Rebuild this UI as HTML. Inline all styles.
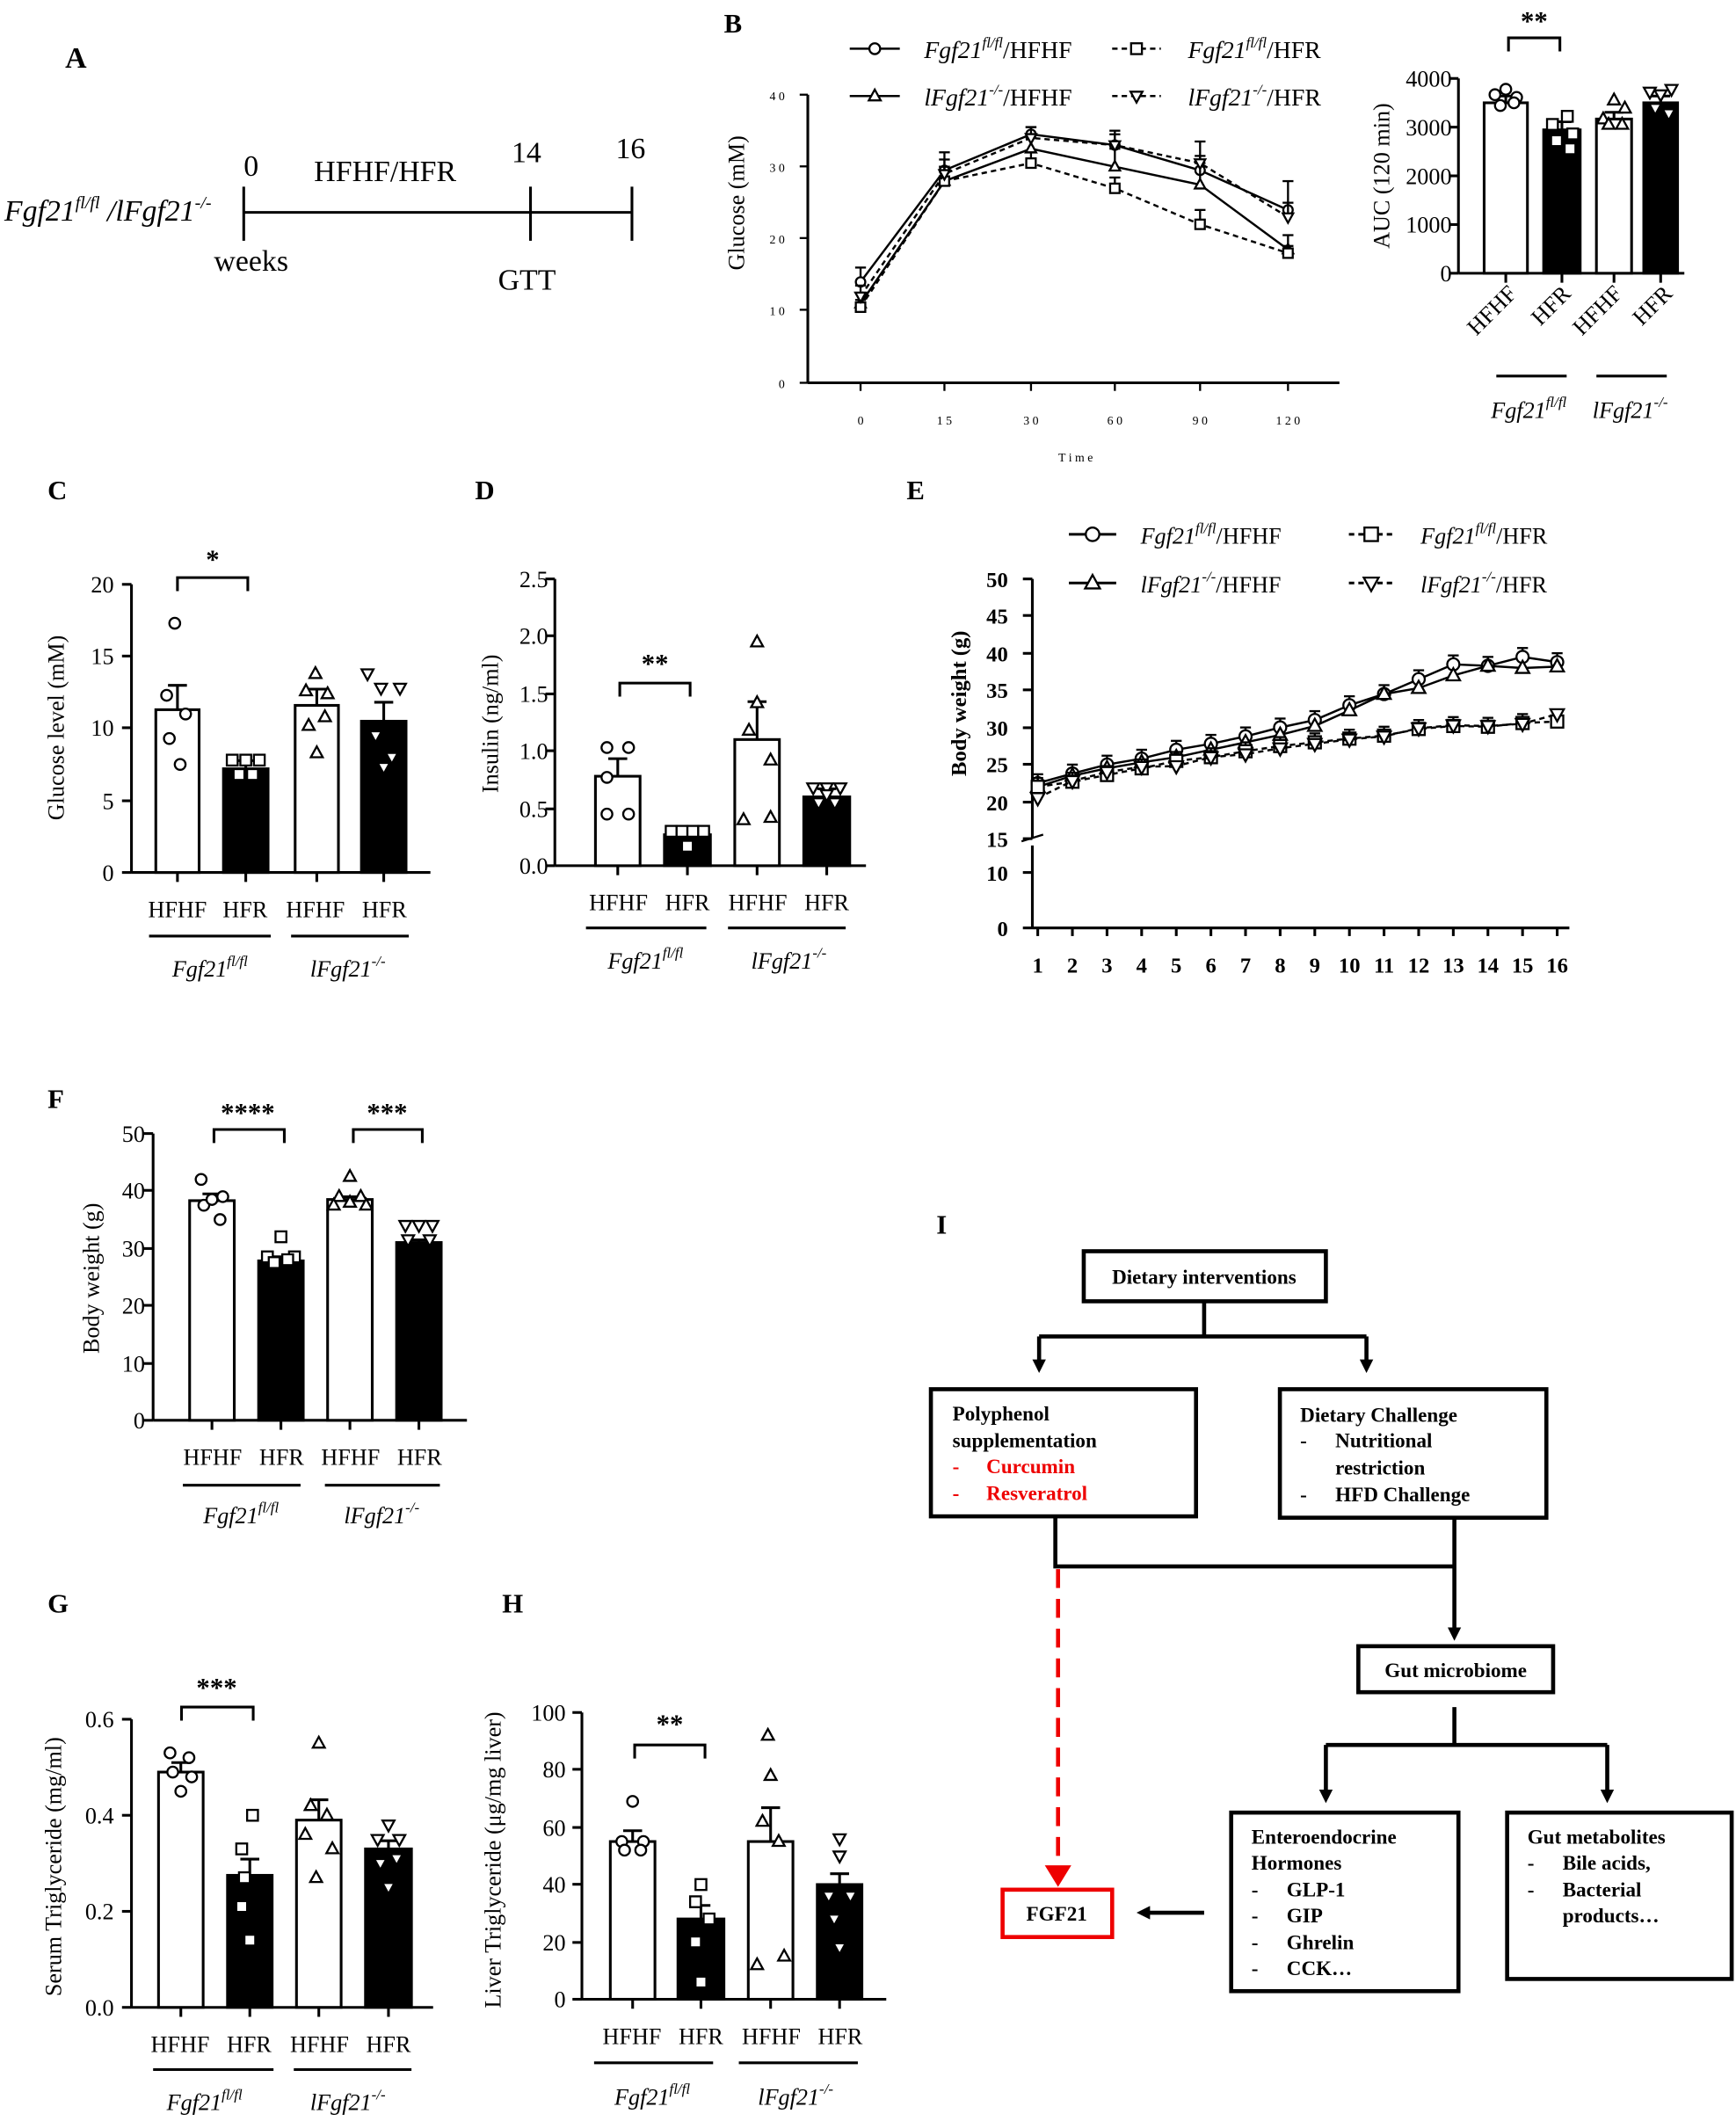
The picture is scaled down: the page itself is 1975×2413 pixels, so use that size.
<!DOCTYPE html>
<html><head><meta charset="utf-8"><style>
html,body{margin:0;padding:0;background:#fff}
svg{display:block}
text{font-family:"Liberation Serif",serif;fill:#000}
.b{font-weight:bold}
.i{font-style:italic}
</style></head><body>
<svg id="s" width="1975" height="2413" viewBox="0 0 1283 1568" xmlns="http://www.w3.org/2000/svg">
<defs>
<marker id="ar" markerWidth="10" markerHeight="10" refX="5" refY="5" orient="auto" markerUnits="userSpaceOnUse" viewBox="0 0 10 10"><path d="M0,0 L10,5 L0,10 z"/></marker>
</defs>
<g id="g" stroke="#000" fill="none" stroke-width="2"></g>
<!-- Panel A -->
<text x="48" y="50" font-size="22" class="b">A</text>
<text x="3" y="163" font-size="22" class="i">Fgf21<tspan font-size="13" dy="-9">fl/fl</tspan><tspan dy="9"> /lFgf21</tspan><tspan font-size="13" dy="-9">-/-</tspan></text>
<text x="180" y="130" font-size="22">0</text>
<text x="232" y="134" font-size="22">HFHF/HFR</text>
<text x="378" y="120" font-size="22">14</text>
<text x="455" y="117" font-size="22">16</text>
<text x="158" y="200" font-size="22">weeks</text>
<text x="368" y="214" font-size="22">GTT</text>
<!-- Panel B -->
<text x="535" y="24" font-size="20" class="b">B</text>
<text x="683" y="43" font-size="18" class="i">Fgf21<tspan font-size="11" dy="-8">fl/fl</tspan><tspan dy="8" font-style="normal">/HFHF</tspan></text>
<text x="878" y="43" font-size="18" class="i">Fgf21<tspan font-size="11" dy="-8">fl/fl</tspan><tspan dy="8" font-style="normal">/HFR</tspan></text>
<text x="683" y="78" font-size="18" class="i">lFgf21<tspan font-size="11" dy="-8">-/-</tspan><tspan dy="8" font-style="normal">/HFHF</tspan></text>
<text x="878" y="78" font-size="18" class="i">lFgf21<tspan font-size="11" dy="-8">-/-</tspan><tspan dy="8" font-style="normal">/HFR</tspan></text>
<g font-size="9" text-anchor="end"><text x="580" y="74">4 0</text><text x="580" y="127">3 0</text><text x="580" y="180">2 0</text><text x="580" y="233">1 0</text><text x="580" y="287">0</text></g>
<g font-size="9" text-anchor="middle"><text x="636" y="314">0</text><text x="698" y="314">1 5</text><text x="762" y="314">3 0</text><text x="824" y="314">6 0</text><text x="887" y="314">9 0</text><text x="952" y="314">1 2 0</text><text x="795" y="341">T i m e</text></g>
<text transform="translate(550,150) rotate(-90)" font-size="17" text-anchor="middle">Glucose (mM)</text>
<g font-size="17" text-anchor="end"><text x="1073" y="64">4000</text><text x="1073" y="100">3000</text><text x="1073" y="136">2000</text><text x="1073" y="172">1000</text><text x="1073" y="208">0</text></g>
<text transform="translate(1027,130) rotate(-90)" font-size="17" text-anchor="middle">AUC (120 min)</text>
<g font-size="17" text-anchor="end"><text transform="translate(1122,218) rotate(-45)">HFHF</text><text transform="translate(1162,218) rotate(-45)">HFR</text><text transform="translate(1200,218) rotate(-45)">HFHF</text><text transform="translate(1237,218) rotate(-45)">HFR</text></g>
<text x="1134" y="22" font-size="20" text-anchor="middle" class="b">**</text>
<text x="1130" y="309" font-size="17" class="i" text-anchor="middle">Fgf21<tspan font-size="11" dy="-8">fl/fl</tspan></text>
<text x="1205" y="309" font-size="17" class="i" text-anchor="middle">lFgf21<tspan font-size="11" dy="-8">-/-</tspan></text>
<!-- Panel C -->
<text x="35" y="369" font-size="20" class="b">C</text>
<g font-size="17" text-anchor="end"><text x="84" y="438">20</text><text x="84" y="491">15</text><text x="84" y="544">10</text><text x="84" y="598">5</text><text x="84" y="651">0</text></g>
<text transform="translate(47,538) rotate(-90)" font-size="17" text-anchor="middle">Glucose  level (mM)</text>
<g font-size="17" text-anchor="middle"><text x="131" y="678">HFHF</text><text x="181" y="678">HFR</text><text x="233" y="678">HFHF</text><text x="284" y="678">HFR</text></g>
<text x="155" y="722" font-size="17" class="i" text-anchor="middle">Fgf21<tspan font-size="11" dy="-8">fl/fl</tspan></text>
<text x="257" y="722" font-size="17" class="i" text-anchor="middle">lFgf21<tspan font-size="11" dy="-8">-/-</tspan></text>
<text x="157" y="420" font-size="20" text-anchor="middle" class="b">*</text>
<!-- Panel D -->
<text x="351" y="369" font-size="20" class="b">D</text>
<g font-size="17" text-anchor="end"><text x="405" y="434">2.5</text><text x="405" y="476">2.0</text><text x="405" y="519">1.5</text><text x="405" y="561">1.0</text><text x="405" y="604">0.5</text><text x="405" y="646">0.0</text></g>
<text transform="translate(368,535) rotate(-90)" font-size="17" text-anchor="middle">Insulin (ng/ml)</text>
<g font-size="17" text-anchor="middle"><text x="457" y="673">HFHF</text><text x="508" y="673">HFR</text><text x="560" y="673">HFHF</text><text x="611" y="673">HFR</text></g>
<text x="477" y="716" font-size="17" class="i" text-anchor="middle">Fgf21<tspan font-size="11" dy="-8">fl/fl</tspan></text>
<text x="583" y="716" font-size="17" class="i" text-anchor="middle">lFgf21<tspan font-size="11" dy="-8">-/-</tspan></text>
<text x="484" y="497" font-size="20" text-anchor="middle" class="b">**</text>
<!-- Panel E -->
<text x="670" y="369" font-size="20" class="b">E</text>
<text x="843" y="402" font-size="17" class="i">Fgf21<tspan font-size="11" dy="-8">fl/fl</tspan><tspan dy="8" font-style="normal">/HFHF</tspan></text>
<text x="1050" y="402" font-size="17" class="i">Fgf21<tspan font-size="11" dy="-8">fl/fl</tspan><tspan dy="8" font-style="normal">/HFR</tspan></text>
<text x="843" y="438" font-size="17" class="i">lFgf21<tspan font-size="11" dy="-8">-/-</tspan><tspan dy="8" font-style="normal">/HFHF</tspan></text>
<text x="1050" y="438" font-size="17" class="i">lFgf21<tspan font-size="11" dy="-8">-/-</tspan><tspan dy="8" font-style="normal">/HFR</tspan></text>
<g font-size="16" text-anchor="end" class="b"><text x="745" y="434">50</text><text x="745" y="461">45</text><text x="745" y="489">40</text><text x="745" y="516">35</text><text x="745" y="544">30</text><text x="745" y="571">25</text><text x="745" y="599">20</text><text x="745" y="626">15</text><text x="745" y="651">10</text><text x="745" y="692">0</text></g>
<text transform="translate(714,520) rotate(-90)" font-size="16" text-anchor="middle" class="b">Body weight (g)</text>
<g id="ex" font-size="16" text-anchor="middle" class="b"></g>
<!-- Panel F -->
<text x="35" y="819" font-size="20" class="b">F</text>
<g font-size="17" text-anchor="end"><text x="107" y="844">50</text><text x="107" y="886">40</text><text x="107" y="929">30</text><text x="107" y="971">20</text><text x="107" y="1014">10</text><text x="107" y="1056">0</text></g>
<text transform="translate(73,945) rotate(-90)" font-size="17" text-anchor="middle">Body weight (g)</text>
<g font-size="17" text-anchor="middle"><text x="157" y="1083">HFHF</text><text x="208" y="1083">HFR</text><text x="259" y="1083">HFHF</text><text x="310" y="1083">HFR</text></g>
<text x="178" y="1126" font-size="17" class="i" text-anchor="middle">Fgf21<tspan font-size="11" dy="-8">fl/fl</tspan></text>
<text x="282" y="1126" font-size="17" class="i" text-anchor="middle">lFgf21<tspan font-size="11" dy="-8">-/-</tspan></text>
<text x="183" y="829" font-size="20" text-anchor="middle" class="b">****</text>
<text x="286" y="829" font-size="20" text-anchor="middle" class="b">***</text>
<!-- Panel G -->
<text x="35" y="1192" font-size="20" class="b">G</text>
<g font-size="17" text-anchor="end"><text x="84" y="1277">0.6</text><text x="84" y="1348">0.4</text><text x="84" y="1419">0.2</text><text x="84" y="1490">0.0</text></g>
<text transform="translate(45,1380) rotate(-90)" font-size="17" text-anchor="middle">Serum Triglyceride (mg/ml)</text>
<g font-size="17" text-anchor="middle"><text x="133" y="1517">HFHF</text><text x="184" y="1517">HFR</text><text x="236" y="1517">HFHF</text><text x="287" y="1517">HFR</text></g>
<text x="151" y="1560" font-size="17" class="i" text-anchor="middle">Fgf21<tspan font-size="11" dy="-8">fl/fl</tspan></text>
<text x="257" y="1560" font-size="17" class="i" text-anchor="middle">lFgf21<tspan font-size="11" dy="-8">-/-</tspan></text>
<text x="160" y="1254" font-size="20" text-anchor="middle" class="b">***</text>
<!-- Panel H -->
<text x="371" y="1192" font-size="20" class="b">H</text>
<g font-size="17" text-anchor="end"><text x="418" y="1272">100</text><text x="418" y="1314">80</text><text x="418" y="1357">60</text><text x="418" y="1399">40</text><text x="418" y="1442">20</text><text x="418" y="1484">0</text></g>
<text transform="translate(370,1375) rotate(-90)" font-size="17" text-anchor="middle">Liver Triglyceride (μg/mg liver)</text>
<g font-size="17" text-anchor="middle"><text x="467" y="1511">HFHF</text><text x="518" y="1511">HFR</text><text x="570" y="1511">HFHF</text><text x="621" y="1511">HFR</text></g>
<text x="482" y="1556" font-size="17" class="i" text-anchor="middle">Fgf21<tspan font-size="11" dy="-8">fl/fl</tspan></text>
<text x="588" y="1556" font-size="17" class="i" text-anchor="middle">lFgf21<tspan font-size="11" dy="-8">-/-</tspan></text>
<text x="495" y="1281" font-size="20" text-anchor="middle" class="b">**</text>
<!-- Panel I -->
<text x="692" y="912" font-size="20" class="b">I</text>
<g font-size="15" class="b">
<text x="890" y="949" text-anchor="middle">Dietary interventions</text>
<text x="704" y="1050">Polyphenol</text>
<text x="704" y="1070">supplementation</text>
<text x="704" y="1089" fill="#e00" style="fill:#e00">-</text><text x="729" y="1089" style="fill:#e00">Curcumin</text>
<text x="704" y="1109" style="fill:#e00">-</text><text x="729" y="1109" style="fill:#e00">Resveratrol</text>
<text x="961" y="1051">Dietary Challenge</text>
<text x="961" y="1070">-</text><text x="987" y="1070">Nutritional</text>
<text x="987" y="1090">restriction</text>
<text x="961" y="1110">-</text><text x="987" y="1110">HFD Challenge</text>
<text x="1076" y="1240" text-anchor="middle">Gut microbiome</text>
<text x="925" y="1363">Enteroendocrine</text>
<text x="925" y="1382">Hormones</text>
<text x="925" y="1402">-</text><text x="951" y="1402">GLP-1</text>
<text x="925" y="1421">-</text><text x="951" y="1421">GIP</text>
<text x="925" y="1441">-</text><text x="951" y="1441">Ghrelin</text>
<text x="925" y="1460">-</text><text x="951" y="1460">CCK…</text>
<text x="1129" y="1363">Gut metabolites</text>
<text x="1129" y="1382">-</text><text x="1155" y="1382">Bile acids,</text>
<text x="1129" y="1402">-</text><text x="1155" y="1402">Bacterial</text>
<text x="1155" y="1421">products…</text>
<text x="781" y="1420" text-anchor="middle">FGF21</text>
</g>
</svg>
<script>
const NS="http://www.w3.org/2000/svg",G=document.getElementById('g');
function el(t,a,p){const e=document.createElementNS(NS,t);for(const k in a)e.setAttribute(k,a[k]);(p||G).appendChild(e);return e}
function L(x1,y1,x2,y2,o){return el('line',Object.assign({x1,y1,x2,y2},o||{}))}
function P(d,o){return el('path',Object.assign({d},o||{}))}
function mk(type,x,y,r,fill){
 fill=fill||'#fff';
 if(type=='o')el('circle',{cx:x,cy:y,r:r,fill:fill,'stroke-width':1.5});
 else if(type=='s')el('rect',{x:x-r,y:y-r,width:2*r,height:2*r,fill:fill,'stroke-width':1.5});
 else if(type=='t')P(`M${x},${y-r*1.2}L${x+r*1.1},${y+r*0.8}L${x-r*1.1},${y+r*0.8}Z`,{fill:fill,'stroke-width':1.5});
 else P(`M${x},${y+r*1.2}L${x+r*1.1},${y-r*0.8}L${x-r*1.1},${y-r*0.8}Z`,{fill:fill,'stroke-width':1.5});
}
L(180,157,467,157);L(180,138,180,178);L(392,138,392,178);L(467,138,467,178);
L(597,70,597,283);L(597,283,990,283);
[70,123,176,229,283].forEach(y=>L(591,y,597,y,{'stroke-width':1.5}));
const bx=[636,698,762,824,887,952];bx.forEach(x=>L(x,283,x,289,{'stroke-width':1.5}));
const gy=v=>283-v*5.325;
const ser=[['o',[14,29.5,34.5,33,29.5,24],'',[2,2.5,1,2,2,4]],['t',[11,28,32.5,30,27.5,18.5],'',[1.5,2,1.5,2.5,3,2]],['s',[10.5,28,30.5,27,22,18],'4,3',[1,2,1.5,1.5,2,1]],['v',[12,29,34,33,30.5,23],'4,3',[1.5,2,1.5,1.5,3,2]]];
ser.forEach(s=>{P('M'+bx.map((x,i)=>x+','+gy(s[1][i])).join('L'),{'stroke-width':1.6,'stroke-dasharray':s[2]});
 bx.forEach((x,i)=>{const v=s[1][i],e=s[3][i];L(x,gy(v),x,gy(v+e),{'stroke-width':1.5});L(x-4,gy(v+e),x+4,gy(v+e),{'stroke-width':1.5});mk(s[0],x,gy(v),3.5)})});
[[628,665,36,'o',''],[822,858,36,'s','4,3'],[628,665,71,'t',''],[822,858,71,'v','4,3']].forEach(l=>{L(l[0],l[2],l[1],l[2],{'stroke-width':1.6,'stroke-dasharray':l[4]});mk(l[3],(l[0]+l[1])/2,l[2],4)});
function bars(ax,yTop,yBase,xEnd,ticks,bs,br,ul){
 L(ax,yTop,ax,yBase);L(ax,yBase,xEnd,yBase);
 ticks.forEach(y=>L(ax-7,y,ax,y));
 bs.forEach(b=>{const [x0,x1,top,fill,e,m,pts]=b;el('rect',{x:x0,y:top,width:x1-x0,height:yBase-top,fill:fill,'stroke-width':2});
  const c=(x0+x1)/2;L(c,top,c,top-e);L(c-7,top-e,c+7,top-e);
  L(c,yBase,c,yBase+7);
  pts.forEach(p=>mk(m,c+p[0],p[1],4,'#fff'));});
 br.forEach(b=>P(`M${b[0]},${b[2]+10}V${b[2]}H${b[1]}V${b[2]+10}`));
 ul.forEach(u=>L(u[0],u[2],u[1],u[2]));
}
bars(1078,58,202,1245,[58,94,130,166,202],[
 [1097,1129,76,'#fff',5,'o',[[-8,70],[0,66],[8,72],[-4,78],[6,76]]],
 [1141,1168,96,'#000',6,'s',[[-7,92],[4,86],[8,99],[-4,104],[6,110]]],
 [1180,1206,88,'#fff',5,'t',[[-8,88],[0,74],[8,80],[-4,92],[6,92]]],
 [1215,1240,76,'#000',5,'v',[[-8,68],[0,70],[8,66],[-4,80],[6,84]]]],
 [[1115,1153,28]],[[1106,1158,278],[1180,1232,278]]);
const cy=v=>645-v*10.65;
bars(97,432,645,318,[432,485,538,592,645],[
 [115,147,cy(11.3),'#fff',18,'o',[[-2,cy(17.3)],[-8,cy(12.3)],[6,cy(11)],[-6,cy(9.3)],[2,cy(7.5)]]],
 [165,198,cy(7.2),'#000',6,'s',[[-10,cy(7.8)],[0,cy(7.8)],[10,cy(7.8)],[-5,cy(6.8)],[5,cy(6.8)]]],
 [218,250,cy(11.6),'#fff',12,'t',[[-1,cy(13.8)],[-8,cy(12.6)],[8,cy(12.4)],[-6,cy(10.2)],[6,cy(10.8)],[0,cy(8.3)]]],
 [267,300,cy(10.5),'#000',14,'v',[[-12,cy(13.8)],[-2,cy(12.8)],[12,cy(12.8)],[-6,cy(9.5)],[6,cy(8)],[0,cy(7.3)]]]],
 [[131,183,427]],[[110,200,692],[215,302,692]]);
const dy=v=>640-v*84.8;
bars(410,428,640,640,[428,470,513,555,598,640],[
 [440,473,dy(0.78),'#fff',13,'o',[[-8,dy(1.03)],[8,dy(1.03)],[-8,dy(0.77)],[-8,dy(0.45)],[8,dy(0.45)]]],
 [491,525,dy(0.27),'#000',4,'s',[[-12,dy(0.3)],[-4,dy(0.3)],[4,dy(0.3)],[12,dy(0.3)],[0,dy(0.17)]]],
 [543,576,dy(1.1),'#fff',28,'t',[[0,dy(1.95)],[0,dy(1.42)],[-6,dy(1.18)],[10,dy(0.92)],[-10,dy(0.4)],[10,dy(0.42)]]],
 [594,628,dy(0.6),'#000',6,'v',[[-10,dy(0.68)],[0,dy(0.68)],[10,dy(0.68)],[-6,dy(0.55)],[6,dy(0.55)],[0,dy(0.62)]]]],
 [[458,510,505]],[[433,522,686],[538,625,686]]);
L(763,428,763,620);L(763,625,763,686);L(755,622,771,617,{'stroke-width':1.5});
[428,455,483,510,538,565,593,620,645,686].forEach(y=>L(756,y,763,y));
L(763,686,1160,686);
const ex=i=>767+(i-1)*25.6, eyv=v=>428+(50-v)*5.49;
const exg=document.getElementById('ex');
for(let i=1;i<=16;i++){L(ex(i),686,ex(i),692);const t=el('text',{x:ex(i),y:719},exg);t.textContent=i;}
P('M770,686H1158',{'stroke-dasharray':'2,3','stroke-width':1.5});
const es=[['o','',[22.5,23.8,25,25.8,27,27.8,28.8,30,31,33,34.5,36.5,38.5,38.3,39.5,38.8]],
 ['t','',[22,23.5,24.5,25.3,26,27,28,29,30.2,32.3,34.5,35.3,37,38.3,38,38.2]],
 ['s','4,3',[22,22.7,23.6,24.5,25.5,26,26.8,27.5,28,28.5,28.9,29.8,30.2,30.1,30.6,30.8]],
 ['v','4,3',[20.5,22.8,24,24.7,24.8,26,26.4,27.2,27.8,28.4,28.8,29.9,30.3,30.2,30.5,31.8]]];
es.forEach(s=>{P('M'+s[2].map((v,i)=>ex(i+1)+','+eyv(v)).join('L'),{'stroke-width':1.6,'stroke-dasharray':s[1]});
 s[2].forEach((v,i)=>{if(s[0]=='o'||s[0]=='s'){L(ex(i+1),eyv(v),ex(i+1),eyv(v+1.2),{'stroke-width':1.5});L(ex(i+1)-4,eyv(v+1.2),ex(i+1)+4,eyv(v+1.2),{'stroke-width':1.5});}mk(s[0],ex(i+1),eyv(v),4.5)})});
[[790,825,395,'o',''],[997,1030,395,'s','4,3'],[790,825,431,'t',''],[997,1030,431,'v','4,3']].forEach(l=>{L(l[0],l[2],l[1],l[2],{'stroke-width':2,'stroke-dasharray':l[4]});mk(l[3],(l[0]+l[1])/2,l[2],5)});
const fy=v=>1050-v*4.24;
bars(113,838,1050,345,[838,880,923,965,1008,1050],[
 [140,173,fy(38.3),'#fff',5,'o',[[-8,fy(42)],[8,fy(39)],[-6,fy(37.5)],[6,fy(35)],[0,fy(38.5)]]],
 [191,224,fy(27.8),'#000',3,'s',[[0,fy(32)],[-10,fy(28.5)],[10,fy(28.5)],[-5,fy(27.5)],[5,fy(28)]]],
 [242,275,fy(38.5),'#fff',2,'t',[[0,fy(42.5)],[-8,fy(39)],[8,fy(39)],[-12,fy(37.5)],[12,fy(37.5)],[0,fy(38)]]],
 [293,326,fy(31),'#000',2,'v',[[-10,fy(34)],[0,fy(34)],[10,fy(34)],[-8,fy(31.5)],[8,fy(31.5)]]]],
 [[158,210,835],[261,312,835]],[[135,222,1098],[240,325,1098]]);
const gg=v=>1484-v*355;
bars(97,1271,1484,320,[1271,1342,1413,1484],[
 [117,150,gg(0.49),'#fff',7,'o',[[-8,gg(0.53)],[6,gg(0.52)],[-6,gg(0.49)],[8,gg(0.48)],[0,gg(0.45)]]],
 [168,201,gg(0.275),'#000',12,'s',[[2,gg(0.4)],[-6,gg(0.33)],[-4,gg(0.27)],[-6,gg(0.21)],[0,gg(0.14)]]],
 [219,252,gg(0.39),'#fff',15,'t',[[0,gg(0.55)],[-6,gg(0.42)],[6,gg(0.4)],[-10,gg(0.36)],[10,gg(0.33)],[-2,gg(0.27)]]],
 [270,304,gg(0.33),'#000',6,'v',[[0,gg(0.38)],[-8,gg(0.35)],[8,gg(0.35)],[-6,gg(0.3)],[6,gg(0.31)],[0,gg(0.25)]]]],
 [[134,187,1262]],[[113,202,1530],[217,304,1530]]);
const hy=v=>1478-v*2.12;
bars(430,1266,1478,655,[1266,1308,1351,1393,1436,1478],[
 [451,484,hy(55),'#fff',8,'o',[[0,hy(69)],[-8,hy(55)],[8,hy(55)],[-6,hy(52)],[6,hy(52)]]],
 [501,535,hy(28),'#000',10,'s',[[0,hy(40)],[-4,hy(34)],[6,hy(28)],[-4,hy(20)],[0,hy(6)]]],
 [553,586,hy(55),'#fff',25,'t',[[-2,hy(92)],[0,hy(78)],[-6,hy(62)],[6,hy(55)],[-10,hy(12)],[10,hy(15)]]],
 [604,637,hy(40),'#000',8,'v',[[0,hy(56)],[0,hy(50)],[-8,hy(36)],[8,hy(36)],[-4,hy(28)],[0,hy(18)]]]],
 [[469,521,1290]],[[439,527,1525],[546,634,1525]]);
const bx2=(x,y,w,h,c)=>el('rect',{x,y,width:w,height:h,fill:'none','stroke-width':3,stroke:c||'#000'});
bx2(801,925,179,37);bx2(688,1027,196,94);bx2(946,1027,197,95);bx2(1004,1217,144,34);bx2(910,1340,168,132);bx2(1114,1340,166,123);bx2(741,1397,81,35,'#e00');
const A={'stroke-width':3,'marker-end':'url(#ar)'};
P('M890,962V988M768,988H1010',{'stroke-width':3});
L(768,988,768,1010,A);L(1010,988,1010,1010,A);
P('M780,1121V1158H1075M1075,1122V1158',{'stroke-width':3});
L(1075,1158,1075,1208,A);
L(782,1160,782,1386,{'stroke-width':3,stroke:'#e00','stroke-dasharray':'14,8'});
el('path',{d:'M774,1380L790,1380L782,1393Z',fill:'#e00',stroke:'#e00'});
P('M1075,1262V1290M980,1290H1188',{'stroke-width':3});
L(980,1290,980,1328,A);L(1188,1290,1188,1328,A);
L(890,1414,845,1414,A);
</script>
</body></html>
